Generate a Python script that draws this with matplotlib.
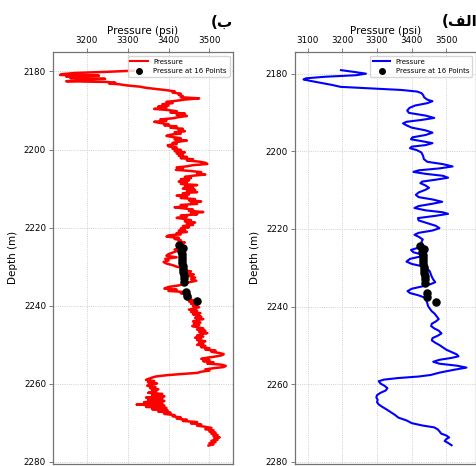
import numpy as np
import matplotlib.pyplot as plt
from matplotlib.lines import Line2D

# pressure log (raw, red panel)
red_depth = [
    2179.8, 2180.1, 2180.4, 2180.7, 2180.9, 2181.1, 2181.3, 2181.5, 2181.7, 2181.9,
    2182.1, 2182.3, 2182.5, 2182.7, 2182.9, 2183.1, 2183.3, 2183.6, 2183.9, 2184.2,
    2184.5, 2184.8,
    2185.1, 2185.4, 2185.7, 2186.0, 2186.3, 2186.6, 2186.9, 2187.2, 2187.5, 2187.8,
    2188.1, 2188.4, 2188.7, 2189.0, 2189.3, 2189.6, 2189.9, 2190.2, 2190.5, 2190.8,
    2191.1, 2191.4, 2191.7, 2192.0, 2192.3, 2192.6, 2192.9, 2193.2, 2193.5, 2193.8,
    2194.1, 2194.4, 2194.7, 2195.0, 2195.3, 2195.6, 2195.9, 2196.2, 2196.5, 2196.8,
    2197.1, 2197.4, 2197.7, 2198.0, 2198.3, 2198.6, 2198.9, 2199.2, 2199.5, 2199.8,
    2200.1, 2200.4, 2200.7, 2201.0, 2201.3, 2201.6, 2201.9, 2202.2, 2202.5, 2202.8,
    2203.1, 2203.4, 2203.7, 2204.0, 2204.3, 2204.6, 2204.9, 2205.2, 2205.5, 2205.8,
    2206.1, 2206.4, 2206.7, 2207.0, 2207.3, 2207.6, 2207.9, 2208.2, 2208.5, 2208.8,
    2209.1, 2209.4, 2209.7, 2210.0, 2210.3, 2210.6, 2210.9, 2211.2, 2211.5, 2211.8,
    2212.1, 2212.4, 2212.7, 2213.0, 2213.3, 2213.6, 2213.9, 2214.2, 2214.5, 2214.8,
    2215.1, 2215.4, 2215.7, 2216.0, 2216.3, 2216.6, 2216.9, 2217.2, 2217.5, 2217.8,
    2218.1, 2218.4, 2218.7, 2219.0, 2219.3, 2219.6, 2219.9, 2220.2, 2220.5, 2220.8,
    2221.1, 2221.4, 2221.7, 2222.0, 2222.3, 2222.6, 2222.9, 2223.2, 2223.5, 2223.8,
    2224.1, 2224.4,
    2224.8, 2225.2, 2225.6, 2226.0, 2226.4, 2226.8, 2227.2, 2227.6, 2228.0, 2228.4,
    2228.8, 2229.2, 2229.6, 2230.0, 2230.4, 2230.8, 2231.2, 2231.6, 2232.0, 2232.4,
    2232.8, 2233.2, 2233.6, 2234.0, 2234.4, 2234.8, 2235.2, 2235.6,
    2235.9, 2236.2, 2236.5, 2236.8, 2237.1, 2237.4, 2237.7, 2238.0, 2238.3, 2238.6,
    2238.9, 2239.2, 2239.5, 2239.8, 2240.1, 2240.4, 2240.7, 2241.0, 2241.3, 2241.6,
    2241.9, 2242.2, 2242.5, 2242.8, 2243.1, 2243.4, 2243.7, 2244.0, 2244.3, 2244.6,
    2244.9, 2245.2, 2245.5, 2245.8, 2246.1, 2246.4, 2246.7, 2247.0, 2247.3, 2247.6,
    2247.9, 2248.2, 2248.5, 2248.8, 2249.1, 2249.4, 2249.7, 2250.0, 2250.3, 2250.6,
    2250.9, 2251.2, 2251.5, 2251.8, 2252.1, 2252.4, 2252.7, 2253.0, 2253.3, 2253.6,
    2253.9, 2254.2, 2254.5, 2254.8, 2255.1, 2255.4, 2255.7, 2256.0, 2256.3, 2256.6,
    2256.9, 2257.2, 2257.5, 2257.8, 2258.1, 2258.4, 2258.7, 2259.0, 2259.3, 2259.6,
    2259.9, 2260.2, 2260.5, 2260.8, 2261.1, 2261.4, 2261.7, 2262.0, 2262.3, 2262.6,
    2262.9, 2263.2, 2263.5, 2263.8, 2264.1, 2264.4, 2264.7, 2265.0, 2265.3, 2265.6,
    2265.9, 2266.2, 2266.5, 2266.8, 2267.1, 2267.4, 2267.7, 2268.0, 2268.3, 2268.6,
    2268.9, 2269.2, 2269.5, 2269.8, 2270.1, 2270.4, 2270.7, 2271.0, 2271.3, 2271.6,
    2271.9, 2272.2, 2272.5, 2272.8, 2273.1, 2273.4, 2273.7, 2274.0, 2274.3, 2274.6,
    2274.9, 2275.2, 2275.5, 2275.8,
]
red_pressure = [
    3315, 3250, 3170, 3140, 3135, 3230, 3150, 3190, 3160, 3245,
    3175, 3200, 3150, 3250, 3270, 3255, 3280, 3300, 3330, 3345,
    3370, 3395,
    3415, 3410, 3430, 3425, 3435, 3430, 3475, 3440, 3420, 3395,
    3410, 3385, 3400, 3375, 3395, 3365, 3400, 3420, 3405, 3440,
    3420, 3445, 3425, 3410, 3380, 3395, 3365, 3380, 3400, 3390,
    3420, 3405, 3435, 3425, 3440, 3415, 3430, 3405, 3395, 3410,
    3430, 3415, 3445, 3425, 3410, 3420, 3398, 3400, 3420, 3410,
    3430, 3415, 3440, 3420, 3435, 3425, 3445, 3430, 3460, 3445,
    3475, 3490, 3495, 3460, 3445, 3420, 3435, 3418, 3455, 3480,
    3470, 3490, 3460, 3440, 3455, 3430, 3450, 3425, 3445, 3430,
    3470, 3440, 3460, 3435, 3465, 3445, 3470, 3435, 3450, 3420,
    3445, 3430, 3465, 3450, 3480, 3455, 3470, 3430, 3445, 3415,
    3440, 3460, 3450, 3485, 3455, 3470, 3430, 3445, 3420, 3440,
    3455, 3440, 3465, 3445, 3460, 3435, 3450, 3430, 3440, 3425,
    3445, 3420, 3430, 3400, 3395, 3425, 3415, 3430, 3425, 3440,
    3430, 3435,
    3425, 3430, 3415, 3420, 3410, 3400, 3395, 3420, 3392, 3400,
    3388, 3395, 3410, 3420, 3440, 3430, 3455, 3445, 3462, 3450,
    3465, 3455, 3468, 3450, 3440, 3425, 3400, 3390,
    3420, 3400, 3440, 3430, 3450, 3445, 3440, 3455, 3445, 3460,
    3450, 3465, 3455, 3470, 3460, 3475, 3462, 3450, 3470, 3455,
    3478, 3460, 3472, 3480, 3465, 3485, 3470, 3460, 3478, 3462,
    3475, 3458, 3470, 3485, 3470, 3490, 3475, 3495, 3480, 3470,
    3485, 3465, 3480, 3470, 3490, 3475, 3485, 3470, 3490, 3480,
    3500, 3490, 3515, 3505, 3525, 3535, 3530, 3515, 3495, 3480,
    3500, 3485, 3510, 3495, 3530, 3540, 3535, 3510, 3490, 3500,
    3480, 3470, 3430, 3395, 3370, 3360, 3352, 3345, 3365, 3350,
    3372, 3355, 3348, 3368, 3355, 3375, 3360, 3370, 3350, 3385,
    3360, 3390, 3345, 3385, 3350, 3390, 3340, 3385, 3322, 3390,
    3345, 3395, 3360, 3398, 3375, 3405, 3390, 3415, 3410, 3430,
    3420, 3445, 3435, 3470, 3455, 3480, 3470, 3490, 3505, 3490,
    3510, 3500, 3515, 3505, 3520, 3510, 3525, 3512, 3520, 3505,
    3515, 3500, 3510, 3498,
]

# pressure log (smoothed, blue panel)
blue_depth = [
    2179.1, 2179.5, 2180.0, 2180.4, 2180.8, 2181.2, 2181.5, 2181.9, 2182.4, 2182.9,
    2183.4, 2183.8, 2184.2, 2184.6, 2185.0, 2185.5, 2186.1, 2186.7, 2187.1, 2187.6,
    2188.2, 2188.8, 2189.5, 2190.1, 2190.8, 2191.4, 2191.9, 2192.4, 2192.8, 2193.3,
    2193.9, 2194.6, 2195.2, 2195.8, 2196.4, 2196.9, 2197.4, 2197.9, 2198.4, 2198.8,
    2199.2, 2199.7, 2200.3, 2201.2, 2202.0, 2202.7, 2203.3, 2203.9, 2204.4, 2204.9,
    2205.3, 2205.8, 2206.3, 2206.8, 2207.3, 2207.8, 2208.2, 2208.8, 2209.4, 2209.9,
    2210.6, 2211.2, 2211.8, 2212.4, 2213.0, 2213.5, 2214.1, 2214.6, 2215.2, 2215.7,
    2216.1, 2216.6, 2217.2, 2217.8, 2218.5, 2219.2, 2219.8, 2220.4, 2221.0, 2221.5,
    2222.0, 2222.7, 2223.4, 2224.2, 2224.8, 2225.4, 2226.0, 2226.6, 2227.1, 2227.7,
    2228.4, 2229.0, 2229.6, 2230.2, 2230.9, 2231.6, 2232.3, 2233.0, 2233.7, 2234.2,
    2234.8, 2235.4, 2236.0, 2236.5, 2237.1, 2237.7, 2238.4, 2239.1, 2239.8, 2240.5,
    2241.2, 2241.8, 2242.5, 2243.2, 2243.8, 2244.4, 2245.0, 2245.6, 2246.2, 2246.9,
    2247.5, 2248.1, 2248.7, 2249.3, 2249.9, 2250.6, 2251.1, 2251.7, 2252.3, 2252.8,
    2253.2, 2253.7, 2254.2, 2254.7, 2255.2, 2255.7, 2256.3, 2257.0, 2257.6, 2258.0,
    2258.4, 2258.8, 2259.2, 2259.8, 2260.4, 2261.0, 2261.6, 2262.2, 2262.8, 2263.4,
    2264.0, 2264.6, 2265.2, 2265.8, 2266.5, 2267.2, 2267.9, 2268.6, 2269.3, 2270.0,
    2270.6, 2271.1, 2271.6, 2272.1, 2272.7, 2273.2, 2273.7, 2274.1, 2274.6, 2275.1,
    2275.7,
]
blue_pressure = [
    3196, 3230, 3268, 3240, 3150, 3095, 3088, 3110, 3140, 3170,
    3195, 3280, 3370, 3415, 3428, 3433, 3436, 3445, 3460, 3445,
    3410, 3394, 3387, 3392, 3440, 3465, 3430, 3385, 3375, 3385,
    3400, 3440, 3460, 3440, 3402, 3398, 3430, 3460, 3440, 3400,
    3395, 3415, 3428, 3433, 3435, 3445, 3490, 3518, 3480, 3420,
    3405, 3440, 3490, 3505, 3470, 3430, 3425, 3440, 3450, 3440,
    3420, 3412, 3420, 3460, 3488, 3460, 3420, 3408, 3440, 3490,
    3505, 3470, 3418, 3420, 3445, 3470, 3480, 3460, 3420, 3408,
    3420, 3432, 3428, 3432, 3420, 3398, 3405, 3430, 3425, 3395,
    3385, 3400, 3430, 3445, 3452, 3455, 3458, 3462, 3468, 3455,
    3430, 3400, 3388, 3395, 3420, 3438, 3442, 3445, 3447, 3452,
    3458, 3466, 3472, 3478, 3470, 3458, 3456, 3465, 3478, 3486,
    3475, 3460, 3458, 3468, 3480, 3492, 3500, 3515, 3530, 3535,
    3515, 3480, 3462, 3480, 3530, 3558, 3520, 3480, 3455, 3420,
    3360, 3320, 3305, 3310, 3322, 3330, 3325, 3310, 3300, 3298,
    3302, 3300, 3305, 3315, 3328, 3340, 3352, 3362, 3385, 3400,
    3430, 3465, 3475, 3480, 3485, 3500, 3508, 3500, 3495, 3505,
    3515,
]

# the 16 measured points
point_depth = [2224.5, 2225.2, 2226.0, 2226.8, 2227.5, 2228.3, 2229.1, 2229.8,
               2230.6, 2231.4, 2232.2, 2233.0, 2233.8, 2236.5, 2237.5, 2238.9]
point_pressure = [3425, 3436, 3431, 3432, 3433, 3434, 3434, 3435,
                  3436, 3436, 3437, 3438, 3439, 3443, 3445, 3470]

depth_ticks = [2180, 2200, 2220, 2240, 2260, 2280]


def style_axis(ax, pressure, depth, xticks, xlim, ylim, color, lw):
    ax.plot(pressure, depth, color=color, lw=lw, zorder=2)
    ax.scatter(point_pressure, point_depth, s=26, color='black', zorder=3)
    ax.set_xlim(*xlim)
    ax.set_ylim(*ylim)
    ax.set_xticks(xticks)
    ax.set_yticks(depth_ticks)
    ax.xaxis.set_ticks_position('top')
    ax.xaxis.set_label_position('top')
    ax.set_xlabel('Pressure (psi)', fontsize=7.5, labelpad=2)
    ax.set_ylabel('Depth (m)', fontsize=7.5)
    ax.tick_params(labelsize=6.3, length=3, width=0.6, color='0.4', pad=2)
    ax.grid(True, linestyle=':', color='0.75', linewidth=0.6)
    for s in ax.spines.values():
        s.set_color('0.45')
        s.set_linewidth(0.9)
    handles = [Line2D([], [], color=color, lw=1.5),
               Line2D([], [], marker='o', color='black', ls='none', markersize=4)]
    ax.legend(handles, ['Pressure', 'Pressure at 16 Points'], loc='upper right',
              fontsize=5, borderaxespad=0.5, handlelength=2.5)


fig = plt.figure(figsize=(4.76, 4.66), dpi=100)

ax1 = fig.add_axes([53 / 476, 1 - 463.5 / 466, 180 / 476, 411.2 / 466])
style_axis(ax1, red_pressure, red_depth, [3200, 3300, 3400, 3500],
           (3117.6, 3557.7), (2280.4, 2175.1), 'red', 1.8)

ax2 = fig.add_axes([295 / 476, 1 - 463.5 / 466, 180.5 / 476, 411.2 / 466])
style_axis(ax2, blue_pressure, blue_depth, [3100, 3200, 3300, 3400, 3500],
           (3063.5, 3584), (2280.4, 2174.5), 'blue', 1.5)

# panel letters (Arabic, shaped forms in visual order)
fig.text(233 / 476, 1 - 22 / 466, '(\uFE8F', ha='right', va='center',
         fontsize=11, fontweight='bold', family='DejaVu Sans')
fig.text(441.7 / 476, 1 - 22 / 466, '(\uFED2\uFEDF\uFE8D', ha='left', va='center',
         fontsize=11, fontweight='bold', family='DejaVu Sans')

fig.savefig('out.png', dpi=100)
